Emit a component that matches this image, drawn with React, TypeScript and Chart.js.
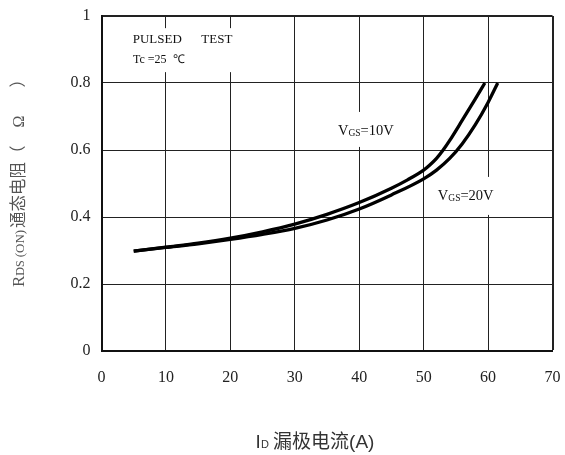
import React, { useEffect, useRef } from 'react';
import { Chart, registerables } from 'chart.js';

Chart.register(...registerables);

// ---- data ----
const idVgs10 = [5, 10, 15, 20, 25, 30, 35, 40, 45, 47.5, 50, 51, 52, 53, 54, 56, 58, 59.5];
const rdsVgs10 = [0.298, 0.31, 0.322, 0.337, 0.356, 0.379, 0.408, 0.443, 0.486, 0.511, 0.54, 0.556, 0.575, 0.599, 0.627, 0.689, 0.752, 0.8];
const idVgs20 = [5, 10, 15, 20, 25, 30, 35, 40, 45, 50, 52, 54, 56, 58, 60, 61.5];
const rdsVgs20 = [0.298, 0.309, 0.32, 0.333, 0.348, 0.366, 0.391, 0.424, 0.466, 0.514, 0.54, 0.574, 0.619, 0.675, 0.742, 0.8];
const xTickValues = [0, 10, 20, 30, 40, 50, 60, 70];
const yTickLabels = ['0', '0.2', '0.4', '0.6', '0.8', '1'];

const SERIF = '"Liberation Serif", "Times New Roman", serif';
const SANS = '"Liberation Sans", Arial, sans-serif';
const CJK = '"Noto Sans CJK SC", sans-serif';

type Part = { t: string; size: number; font: string; dy?: number; gap?: number };
type Note = { x: number; y: number; parts: Part[]; box?: [number, number, number, number] };

const notes: Note[] = [
  { x: 4.84, y: 0.919, parts: [{ t: 'PULSED      TEST', size: 13, font: SERIF }], box: [-5, -15, 104, 29] },
  { x: 4.89, y: 0.86, parts: [{ t: 'Tc =25  ℃', size: 12, font: SERIF }] },
  {
    x: 36.7, y: 0.645,
    parts: [
      { t: 'V', size: 14.5, font: SERIF },
      { t: 'GS', size: 9.5, font: SERIF, dy: 1 },
      { t: '=10V', size: 14.5, font: SERIF },
    ],
    box: [-4, -23, 58, 12],
  },
  {
    x: 52.2, y: 0.451,
    parts: [
      { t: 'V', size: 14.5, font: SERIF },
      { t: 'GS', size: 9.5, font: SERIF, dy: 1 },
      { t: '=20V', size: 14.5, font: SERIF },
    ],
    box: [-4, -23, 56, 15],
  },
];

const yTitleParts: Part[] = [
  { t: 'R', size: 17, font: SERIF },
  { t: 'DS', size: 12, font: SERIF },
  { t: '(ON)', size: 13, font: SERIF, gap: 3 },
  { t: '通态电阻', size: 16.5, font: CJK, gap: 2 },
  { t: '（', size: 16.5, font: CJK },
  { t: 'Ω', size: 16, font: SERIF, gap: 18 },
  { t: '）', size: 16.5, font: CJK, gap: 28 },
];
const xTitleParts: Part[] = [
  { t: 'I', size: 19, font: SANS },
  { t: 'D', size: 11, font: SANS },
  { t: ' 漏极电流', size: 19, font: CJK },
  { t: '(A)', size: 19, font: SANS },
];

function measureParts(ctx: CanvasRenderingContext2D, parts: Part[]) {
  let w = 0;
  for (const p of parts) {
    ctx.font = `${p.size}px ${p.font}`;
    w += (p.gap || 0) + ctx.measureText(p.t).width;
  }
  return w;
}

function drawParts(ctx: CanvasRenderingContext2D, x: number, y: number, parts: Part[]) {
  let cx = x;
  for (const p of parts) {
    ctx.font = `${p.size}px ${p.font}`;
    cx += p.gap || 0;
    ctx.fillText(p.t, cx, y + (p.dy || 0));
    cx += ctx.measureText(p.t).width;
  }
}

const notesPlugin = {
  id: 'notes',
  beforeDatasetsDraw(chart: any) {
    const ctx: CanvasRenderingContext2D = chart.ctx;
    const xs = chart.scales.x;
    const ys = chart.scales.y;
    ctx.save();
    ctx.textBaseline = 'alphabetic';
    ctx.textAlign = 'left';
    for (const n of notes) {
      const px = xs.getPixelForValue(n.x);
      const py = ys.getPixelForValue(n.y);
      if (n.box) {
        ctx.fillStyle = '#ffffff';
        ctx.fillRect(px + n.box[0], py + n.box[1], n.box[2] - n.box[0], n.box[3] - n.box[1]);
      }
    }
    for (const n of notes) {
      const px = xs.getPixelForValue(n.x);
      const py = ys.getPixelForValue(n.y);
      ctx.fillStyle = '#111111';
      drawParts(ctx, px, py, n.parts);
    }
    ctx.restore();
  },
  afterDraw(chart: any) {
    const ctx: CanvasRenderingContext2D = chart.ctx;
    ctx.save();
    ctx.textBaseline = 'alphabetic';
    ctx.textAlign = 'left';
    // y title (rotated, reads bottom to top)
    ctx.save();
    ctx.translate(23.5, 287);
    ctx.rotate(-Math.PI / 2);
    ctx.fillStyle = '#555555';
    drawParts(ctx, 0, 0, yTitleParts);
    ctx.restore();
    // x title
    const xw = measureParts(ctx, xTitleParts);
    ctx.fillStyle = '#333333';
    drawParts(ctx, 315 - xw / 2, 448, xTitleParts);
    ctx.restore();
  },
};

function zeroPadding(s: any) {
  s.paddingLeft = 0;
  s.paddingRight = 0;
  s.paddingTop = 0;
  s.paddingBottom = 0;
}

export default function App() {
  const ref = useRef<HTMLCanvasElement | null>(null);

  useEffect(() => {
    if (!ref.current) return;
    const chart = new Chart(ref.current, {
      type: 'line',
      data: {
        datasets: [
          {
            label: 'VGS=10V',
            data: idVgs10.map((x, i) => ({ x, y: rdsVgs10[i] })),
            borderColor: '#000000',
            borderWidth: 3.3,
            pointRadius: 0,
            cubicInterpolationMode: 'monotone',
            fill: false,
          },
          {
            label: 'VGS=20V',
            data: idVgs20.map((x, i) => ({ x, y: rdsVgs20[i] })),
            borderColor: '#000000',
            borderWidth: 3.3,
            pointRadius: 0,
            cubicInterpolationMode: 'monotone',
            fill: false,
          },
        ],
      },
      options: {
        animation: false,
        responsive: false,
        layout: { padding: { top: 16, right: 12.5, left: 0, bottom: 0 } },
        plugins: { legend: { display: false }, tooltip: { enabled: false }, title: { display: false } },
        scales: {
          x: {
            type: 'linear',
            min: 0,
            max: 70,
            afterFit: (s: any) => { s.height = 104; zeroPadding(s); },
            afterBuildTicks: (s: any) => { s.ticks = xTickValues.map((v) => ({ value: v })); },
            ticks: {
              font: { family: SERIF, size: 16 },
              color: '#222222',
              padding: 17,
              maxRotation: 0,
              autoSkip: false,
            },
            grid: {
              color: '#222222',
              lineWidth: (c: any) => (c.tick && c.tick.value === 70 ? 2 : 1),
              drawTicks: false,
            },
            border: { color: '#111111', width: 2 },
          },
          y: {
            type: 'linear',
            min: 0,
            max: 1,
            afterFit: (s: any) => { s.width = 101.5; zeroPadding(s); },
            afterBuildTicks: (s: any) => { s.ticks = yTickLabels.map((l) => ({ value: parseFloat(l) })); },
            ticks: {
              callback: (_v: any, i: number) => yTickLabels[i],
              font: { family: SERIF, size: 16 },
              color: '#222222',
              padding: 11,
              autoSkip: false,
            },
            grid: {
              color: '#222222',
              lineWidth: (c: any) => (c.tick && c.tick.value === 1 ? 2 : 1),
              drawTicks: false,
            },
            border: { color: '#111111', width: 2 },
          },
        },
      },
      plugins: [notesPlugin],
    } as any);
    return () => chart.destroy();
  }, []);

  return (
    <div style={{ position: 'absolute', left: 0, top: 0, width: 565, height: 455, background: '#fff' }}>
      <canvas ref={ref} width={565} height={455} />
    </div>
  );
}
